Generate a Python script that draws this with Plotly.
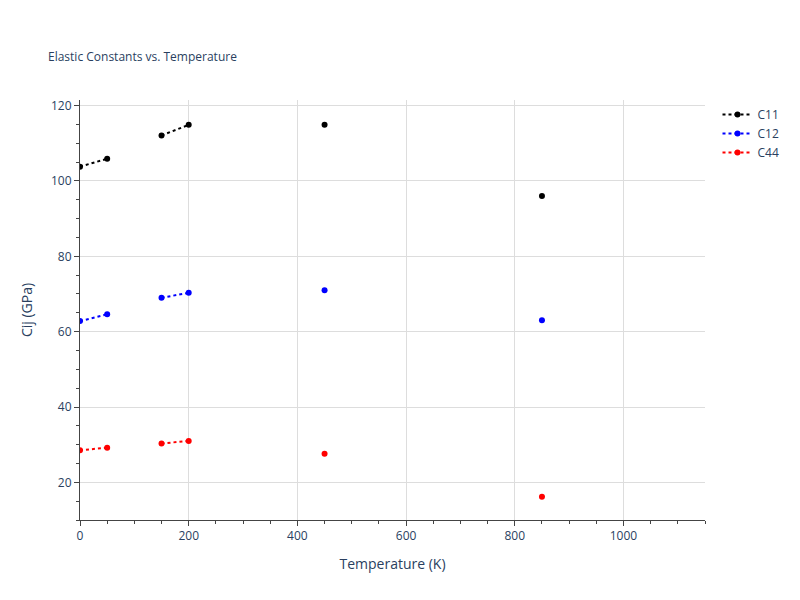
import plotly.graph_objects as go

temps = [0, 50, 100, 150, 200, 300, 450, 650, 850]
c11 = [103.8, 105.9, None, 112.1, 114.9, None, 114.9, None, 96.0]
c12 = [62.8, 64.6, None, 69.0, 70.3, None, 71.0, None, 63.0]
c44 = [28.5, 29.2, None, 30.3, 31.0, None, 27.6, None, 16.2]

fig = go.Figure()
for name, ys, col in [("C11", c11, "black"), ("C12", c12, "blue"), ("C44", c44, "red")]:
    fig.add_trace(go.Scatter(x=temps, y=ys, name=name, mode="lines+markers",
                             line=dict(color=col, dash="dot"), marker=dict(color=col, size=6),
                             connectgaps=False))

fig.update_layout(
    template="plotly_white", width=800, height=600,
    title=dict(text="Elastic Constants vs. Temperature", font=dict(size=12), x=0.05, xanchor="left", y=0.925),
    margin=dict(l=72, r=103, t=92, b=88),
    xaxis=dict(title="Temperature (K)", range=[0, 1150], dtick=200, showline=True, linecolor="#444",
               ticks="outside", minor=dict(ticks="outside", dtick=50), gridcolor="#ddd", zeroline=False),
    yaxis=dict(title="Cij (GPa)", range=[10, 121.5], dtick=20, showline=True, linecolor="#444",
               ticks="outside", minor=dict(ticks="outside", dtick=5), gridcolor="#ddd", zeroline=False),
)
fig.write_html("out.html")
